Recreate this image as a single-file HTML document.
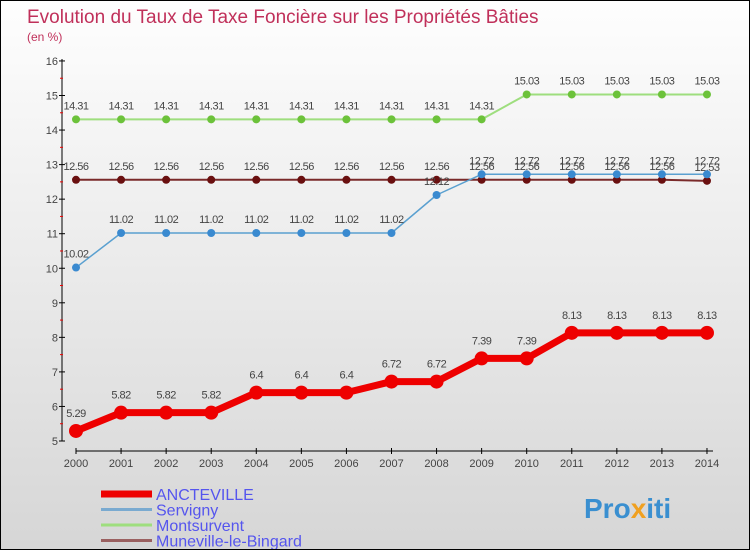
<!DOCTYPE html>
<html><head><meta charset="utf-8"><style>
body{margin:0;}
#c{width:750px;height:550px;position:relative;box-sizing:border-box;border:1px solid #000;background:linear-gradient(#fefefe,#d6d6d6);font-family:"Liberation Sans",sans-serif;overflow:hidden}
svg text{font-family:"Liberation Sans",sans-serif}
</style></head><body>
<div id="c">
<svg id="s" width="750" height="550">
<text x="26" y="22" font-size="19" fill="#c0305a">Evolution du Taux de Taxe Foncière sur les Propriétés Bâties</text>
<text x="26" y="40" font-size="12" fill="#c0305a">(en %)</text>
<text x="583" y="517" font-size="28" font-weight="bold" fill="#3a8fd0">Pro<tspan fill="#f0a020">x</tspan>iti</text>
</svg>
</div>
<script>
const years=[2000,2001,2002,2003,2004,2005,2006,2007,2008,2009,2010,2011,2012,2013,2014];
const ancteville=[5.29,5.82,5.82,5.82,6.4,6.4,6.4,6.72,6.72,7.39,7.39,8.13,8.13,8.13,8.13];
const servigny=[10.02,11.02,11.02,11.02,11.02,11.02,11.02,11.02,12.12,12.72,12.72,12.72,12.72,12.72,12.72];
const montsurvent=[14.31,14.31,14.31,14.31,14.31,14.31,14.31,14.31,14.31,14.31,15.03,15.03,15.03,15.03,15.03];
const muneville=[12.56,12.56,12.56,12.56,12.56,12.56,12.56,12.56,12.56,12.56,12.56,12.56,12.56,12.56,12.53];
const yTicks=[5,6,7,8,9,10,11,12,13,14,15,16];
const NS="http://www.w3.org/2000/svg";
const s=document.getElementById('s');
const X=i=>75+i*45.07;
const Y=v=>440-(v-5)*34.55;
function el(t,a,p){const e=document.createElementNS(NS,t);for(const k in a)e.setAttribute(k,a[k]);(p||s).appendChild(e);return e;}
// axes
let ax=el('line',{x1:61,y1:58,x2:61,y2:440,stroke:'#000'});


let axx=el('line',{x1:75,y1:450,x2:712,y2:450,stroke:'#000'});


yTicks.forEach(v=>{
 el('line',{x1:58,y1:Y(v),x2:64,y2:Y(v),stroke:'#000'});
 if(v<16)el('line',{x1:59,y1:Y(v+0.5),x2:62,y2:Y(v+0.5),stroke:'#e00'});
 const t=el('text',{x:57,y:Y(v)+4,'font-size':11,'text-anchor':'end',fill:'#444'});t.textContent=v;
 
 
});
years.forEach((y,i)=>{
 el('line',{x1:X(i),y1:447,x2:X(i),y2:453,stroke:'#000'});
 const t=el('text',{x:X(i),y:466,'font-size':11,'text-anchor':'middle',fill:'#444'});t.textContent=y;
 
 
});
function series(d,name,lc,pc,lw,r,lab){
 const g=el('g',{});
 
 
 el('polyline',{points:d.map((v,i)=>X(i)+','+Y(v)).join(' '),fill:'none',stroke:lc,'stroke-width':lw,'stroke-linejoin':'round'},g);
 d.forEach((v,i)=>{
  const c=el('circle',{cx:X(i),cy:Y(v),r:r,fill:pc},g);
  
  
  if(lab){const t=el('text',{x:X(i),y:Y(v)-lab,'font-size':11,'text-anchor':'middle',fill:'#444',"letter-spacing":"-0.5"},g);t.textContent=v;
  
  }
 });
}
series(montsurvent,'montsurvent','#9ede7e','#6cc23a',2,4,10);
series(muneville,'muneville','#7a2a2a','#6a1010',2,4,10);
series(servigny,'servigny','#5aa0d0','#3a8ad0',1.5,4,10);
series(ancteville,'ancteville','#ee0000','#ee0000',7,7,14);
const leg=[['ANCTEVILLE','#ee0000',7],['Servigny','#7aaad0',3],['Montsurvent','#9ede7e',3],['Muneville-le-Bingard','#9a6060',3]];
leg.forEach((l,i)=>{
 const y=493+i*15.5;
 const g=el('g',{});
 
 
 el('line',{x1:100,y1:y,x2:151,y2:y,stroke:l[1],'stroke-width':l[2]},g);
 const t=el('text',{x:155,y:y+6,'font-size':16,fill:'#5555ee'},g);t.textContent=l[0];
});
</script>
</body></html>
